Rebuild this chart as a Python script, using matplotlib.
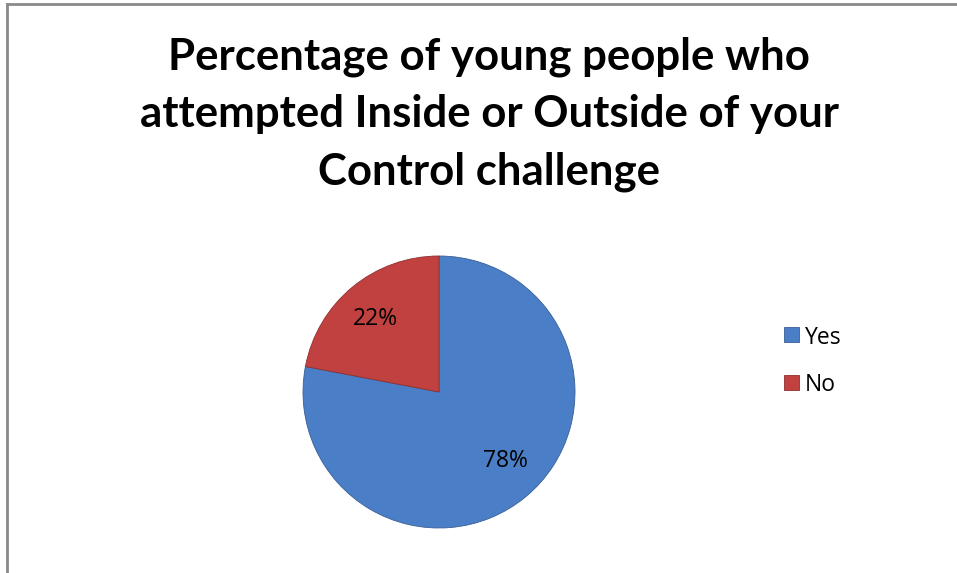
import matplotlib
matplotlib.use('Agg')
import matplotlib.pyplot as plt
from matplotlib.patches import Rectangle

# --- Data ---
categories = ['Yes', 'No']
shares = [78, 22]
colors = ['#4a7ec6', '#c0413f']
edge_colors = ['#3a5f96', '#8e2f2d']

W, H = 957, 573
fig = plt.figure(figsize=(W / 100, H / 100), dpi=100)
fig.patch.set_facecolor('white')

# chart-area frame (top and left edges visible)
fig.add_artist(plt.Line2D([7.5 / W, 1.0], [1 - 3.5 / H, 1 - 3.5 / H],
                          color='#8a8a8a', lw=2, transform=fig.transFigure))
fig.add_artist(plt.Line2D([7.5 / W, 7.5 / W], [0, 1 - 3.5 / H],
                          color='#8a8a8a', lw=2, transform=fig.transFigure))

# title, one line at a time so the baselines sit where we want them
title_lines = ['Percentage of young people who',
               'attempted Inside or Outside of your',
               'Control challenge']
for line, base in zip(title_lines, [70, 127, 185]):
    fig.text(489 / W, 1 - base / H, line, ha='center', va='baseline',
             fontsize=31.5, fontweight='bold', family='Lato')

# pie
cx, cy, r = 439, 392, 136
ax = fig.add_axes([(cx - r) / W, 1 - (cy + r) / H, 2 * r / W, 2 * r / H])
wedges, _ = ax.pie(shares, colors=colors, startangle=90, counterclock=False,
                   radius=1.0, wedgeprops=dict(linewidth=0.6))
for w, ec in zip(wedges, edge_colors):
    w.set_edgecolor(ec)
ax.set_xlim(-1, 1)
ax.set_ylim(-1, 1)
ax.set_aspect('equal')
ax.axis('off')

# percentage labels
label_pos = [(0.485, -0.505), (-0.47, 0.535)]
for (x, y), v in zip(label_pos, shares):
    ax.text(x, y, f'{v}%', ha='center', va='center', fontsize=16.5,
            family='Open Sans')

# legend, drawn by hand
for i, (name, c) in enumerate(zip(categories, colors)):
    yc = 334.5 + 47.5 * i
    fig.add_artist(Rectangle((784 / W, 1 - (yc + 7.5) / H), 15 / W, 15 / H,
                             facecolor=c, edgecolor=edge_colors[i], lw=0.6,
                             transform=fig.transFigure))
    fig.text(805 / W, 1 - yc / H, name, ha='left', va='center_baseline',
             fontsize=16.5, family='Open Sans')

fig.savefig('out.png', dpi=100)
